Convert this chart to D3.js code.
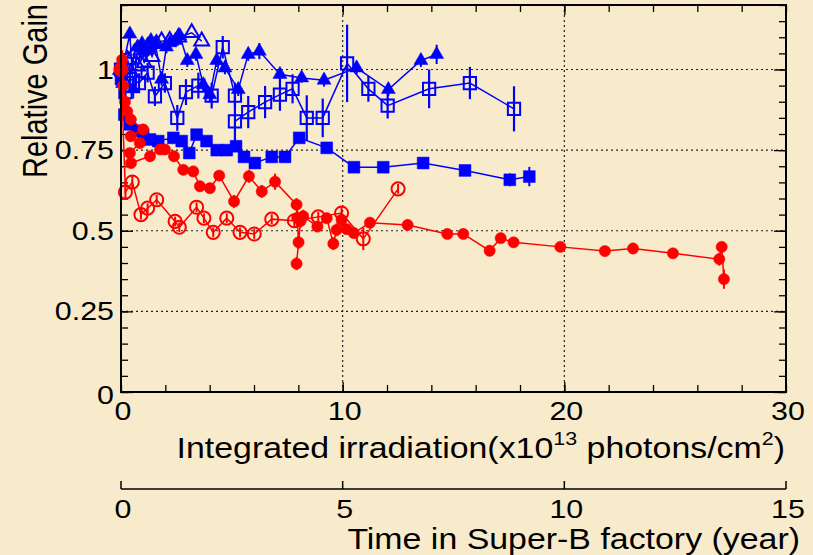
<!DOCTYPE html>
<html>
<head>
<meta charset="utf-8">
<script src="https://cdn.jsdelivr.net/npm/d3@7/dist/d3.min.js"></script>
<style>
  html, body { margin: 0; padding: 0; background: #f8ebcc; }
  svg { display: block; }
</style>
</head>
<body>
<svg id="chart" width="813" height="555"></svg>
<script>
// ---- Relative gain vs. integrated irradiation ----

// blue filled triangles
const triX = [0.05, 0.4, 0.55, 0.75, 0.95, 1.15, 1.35, 1.55, 1.83, 2.05, 2.21, 2.45, 2.66, 2.99, 3.38, 3.71, 4.01, 4.32, 4.69, 5.29, 5.74, 6.24, 7.17, 8.15, 9.16, 10.63, 12.06, 13.53, 14.24];
const triY = [1.0, 1.11, 0.94, 1.07, 1.08, 1.06, 1.09, 1.08, 0.97, 1.07, 1.083, 1.09, 1.104, 1.028, 1.047, 0.953, 0.922, 1.028, 1.005, 0.938, 1.047, 1.057, 0.985, 0.974, 0.967, 1.005, 0.938, 1.028, 1.047];
const triErr = [0.02, 0.02, 0.03, 0.02, 0.02, 0.02, 0.02, 0.02, 0.02, 0.02, 0.02, 0.02, 0.02, 0.02, 0.02, 0.02, 0.02, 0.02, 0.02, 0.02, 0.02, 0.025, 0.015, 0.015, 0.02, 0.02, 0.02, 0.02, 0.03];

// blue open triangles
const otriX = [0.0, 0.15, 0.3, 0.45, 0.6, 0.75, 0.9, 1.05, 1.2, 1.4, 1.6, 1.83, 2.2, 2.6, 3.19, 3.64];
const otriY = [1.0, 0.96, 1.03, 0.99, 1.05, 1.01, 1.06, 1.02, 1.07, 1.04, 1.08, 1.088, 1.09, 1.1, 1.114, 1.088];

// blue open squares
const osqX = [0.0, 0.2, 0.4, 0.81, 1.2, 1.53, 1.98, 2.54, 2.93, 3.49, 4.09, 4.59, 5.14, 5.14, 5.74, 6.5, 7.17, 7.74, 8.38, 9.1, 10.2, 11.16, 12.03, 13.9, 15.74, 17.73];
const osqY = [1.0, 0.93, 0.97, 0.958, 0.99, 0.917, 0.958, 0.85, 0.93, 0.95, 0.919, 1.069, 0.919, 0.839, 0.868, 0.899, 0.922, 0.94, 0.85, 0.85, 1.019, 0.94, 0.888, 0.94, 0.958, 0.878];
const osqErr = [0.02, 0.03, 0.03, 0.03, 0.03, 0.03, 0.03, 0.04, 0.04, 0.04, 0.04, 0.035, 0.04, 0.08, 0.05, 0.05, 0.05, 0.045, 0.07, 0.06, 0.12, 0.04, 0.04, 0.06, 0.05, 0.07];

// blue filled squares
const fsqX = [0.0, 0.15, 0.4, 0.7, 1.0, 1.31, 1.68, 2.36, 2.74, 3.08, 3.41, 3.86, 4.32, 4.77, 5.19, 5.55, 6.04, 6.8, 7.4, 8.04, 9.28, 10.51, 11.83, 13.63, 15.52, 17.54, 18.42];
const fsqY = [0.97, 0.86, 0.83, 0.81, 0.798, 0.783, 0.778, 0.788, 0.778, 0.741, 0.798, 0.778, 0.75, 0.75, 0.762, 0.729, 0.71, 0.729, 0.729, 0.788, 0.757, 0.697, 0.697, 0.71, 0.687, 0.658, 0.668];
const fsqErr = [0.015, 0.015, 0.015, 0.015, 0.015, 0.015, 0.015, 0.015, 0.015, 0.015, 0.015, 0.015, 0.015, 0.015, 0.015, 0.015, 0.015, 0.015, 0.015, 0.015, 0.015, 0.015, 0.015, 0.015, 0.015, 0.02, 0.03];

// red filled circles
const rfX = [0.0, 0.05, 0.1, 0.18, 0.28, 0.44, 1.0, 0.44, 0.85, 0.4, 0.45, 1.31, 1.76, 1.98, 2.39, 2.81, 3.26, 3.56, 4.01, 4.43, 5.1, 5.77, 6.35, 6.95, 7.92, 7.95, 8.01, 7.92, 8.1, 8.22, 8.86, 9.28, 9.58, 9.73, 9.95, 10.18, 10.5, 11.23, 12.93, 14.72, 15.44, 16.63, 17.13, 17.71, 19.82, 21.83, 23.1, 24.9, 26.99, 27.1, 27.2];
const rfY = [1.0, 1.03, 0.95, 0.9, 0.87, 0.845, 0.814, 0.793, 0.772, 0.741, 0.71, 0.731, 0.752, 0.752, 0.731, 0.689, 0.684, 0.638, 0.632, 0.671, 0.591, 0.669, 0.622, 0.652, 0.581, 0.54, 0.464, 0.398, 0.53, 0.545, 0.513, 0.539, 0.46, 0.503, 0.534, 0.505, 0.493, 0.525, 0.518, 0.49, 0.49, 0.438, 0.477, 0.464, 0.45, 0.437, 0.445, 0.43, 0.412, 0.45, 0.35];
const rfErr = [0.03, 0.03, 0.03, 0.02, 0.02, 0.015, 0.015, 0.015, 0.015, 0.015, 0.015, 0.015, 0.015, 0.015, 0.015, 0.015, 0.015, 0.015, 0.015, 0.015, 0.02, 0.02, 0.02, 0.025, 0.02, 0.03, 0.02, 0.02, 0.02, 0.02, 0.015, 0.015, 0.02, 0.02, 0.02, 0.015, 0.015, 0.015, 0.015, 0.01, 0.01, 0.01, 0.015, 0.01, 0.01, 0.01, 0.01, 0.01, 0.02, 0.01, 0.03];

// red open circles
const roX = [0.0, 0.2, 0.51, 0.9, 1.2, 1.61, 2.44, 2.63, 3.41, 3.74, 4.16, 4.77, 5.37, 6.01, 6.8, 7.82, 8.9, 9.95, 10.93, 12.5];
const roY = [1.0, 0.62, 0.651, 0.55, 0.57, 0.596, 0.529, 0.511, 0.573, 0.539, 0.495, 0.539, 0.495, 0.49, 0.536, 0.531, 0.543, 0.555, 0.475, 0.63];
const roErr = [0.02, 0.02, 0.02, 0.015, 0.015, 0.015, 0.015, 0.015, 0.015, 0.015, 0.015, 0.015, 0.015, 0.015, 0.015, 0.02, 0.015, 0.02, 0.035, 0.015];

// axis ticks and labels
const gainTicks = [0, 0.25, 0.5, 0.75, 1];
const gainLabels = ["0", "0.25", "0.5", "0.75", "1"];
const doseTicks = [0, 10, 20, 30];
const yearTicks = [0, 5, 10, 15];

const BLUE = "#0000ff", RED = "#ff0000";
const FONT = "'Liberation Sans', Arial, Helvetica, sans-serif";

const svg = d3.select("#chart");
const W = 813, H = 555;
const L = 121, R = 786, T = 5, B = 392;

const x = d3.scaleLinear().domain([0, 30]).range([L, R]);
const y = d3.scaleLinear().domain([0, 1.2]).range([B, T]);
const yr = d3.scaleLinear().domain([0, 15]).range([L, R]);

// parchment background
const defs = svg.append("defs");
const f = defs.append("filter").attr("id", "paper")
  .attr("x", 0).attr("y", 0).attr("width", "100%").attr("height", "100%");
f.append("feTurbulence").attr("type", "fractalNoise")
  .attr("baseFrequency", "0.015").attr("numOctaves", 3).attr("seed", 7);
f.append("feColorMatrix").attr("type", "matrix")
  .attr("values", "0 0 0 0 0.93  0 0 0 0 0.82  0 0 0 0 0.6  0 0 0 0.5 -0.18");
svg.append("rect").attr("width", W).attr("height", H).attr("fill", "#f8ebcc");
svg.append("rect").attr("width", W).attr("height", H).attr("filter", "url(#paper)");

// dotted grid
const grid = svg.append("g").attr("stroke", "#222").attr("stroke-width", 1.2)
  .attr("stroke-dasharray", "2,3");
grid.selectAll("line.h").data([0.25, 0.5, 0.75, 1]).join("line")
  .attr("x1", L).attr("x2", R).attr("y1", d => y(d)).attr("y2", d => y(d));
grid.selectAll("line.v").data([10, 20]).join("line")
  .attr("y1", T).attr("y2", B).attr("x1", d => x(d)).attr("x2", d => x(d));

// inward ticks on all four sides
function ticks(axisFn, scale, values, size, transform) {
  svg.append("g").attr("transform", transform)
    .call(axisFn(scale).tickValues(values).tickSize(size).tickFormat(""))
    .call(g => g.select(".domain").remove())
    .call(g => g.selectAll("line").attr("stroke", "#000").attr("stroke-width", 1.3));
}
const yMinor = d3.range(0, 1.2001, 0.05);
const xMinor = d3.range(0, 30.001, 2);
ticks(d3.axisRight, y, yMinor, 7, `translate(${L},0)`);
ticks(d3.axisRight, y, gainTicks, 12, `translate(${L},0)`);
ticks(d3.axisLeft, y, yMinor, 7, `translate(${R},0)`);
ticks(d3.axisLeft, y, gainTicks, 12, `translate(${R},0)`);
ticks(d3.axisTop, x, xMinor, 7, `translate(0,${B})`);
ticks(d3.axisTop, x, [10, 20], 10, `translate(0,${B})`);
ticks(d3.axisBottom, x, xMinor, 7, `translate(0,${T})`);
ticks(d3.axisBottom, x, [10, 20], 10, `translate(0,${T})`);

// series drawing
function series(X, Y, E, opt) {
  const data = X.map((v, i) => ({ x: v, y: Y[i], e: E ? E[i] : 0 }));
  const g = svg.append("g");
  g.append("path").datum(data)
    .attr("d", d3.line().x(d => x(d.x)).y(d => y(d.y)))
    .attr("fill", "none").attr("stroke", opt.color).attr("stroke-width", 1.5);
  g.selectAll("line.err").data(data.filter(d => d.e > 0)).join("line")
    .attr("x1", d => x(d.x)).attr("x2", d => x(d.x))
    .attr("y1", d => y(d.y - d.e)).attr("y2", d => y(d.y + d.e))
    .attr("stroke", opt.color).attr("stroke-width", opt.errWidth || 2);
  const sym = d3.symbol().type(opt.type).size(opt.size);
  g.selectAll("path.m").data(data).join("path")
    .attr("transform", d => `translate(${x(d.x)},${y(d.y)})`)
    .attr("d", sym)
    .attr("fill", opt.open ? "none" : opt.color)
    .attr("stroke", opt.color)
    .attr("stroke-width", opt.open ? 2 : 0.5);
}

series(osqX, osqY, osqErr, { color: BLUE, type: d3.symbolSquare, size: 150, open: true, errWidth: 2.2 });
series(fsqX, fsqY, fsqErr, { color: BLUE, type: d3.symbolSquare, size: 140, open: false });
series(otriX, otriY, null, { color: BLUE, type: d3.symbolTriangle, size: 95, open: true });
series(triX, triY, triErr, { color: BLUE, type: d3.symbolTriangle, size: 85, open: false });
series(roX, roY, roErr, { color: RED, type: d3.symbolCircle, size: 135, open: true });
series(rfX, rfY, rfErr, { color: RED, type: d3.symbolCircle, size: 100, open: false });

// frame
svg.append("rect").attr("x", L).attr("y", T).attr("width", R - L).attr("height", B - T)
  .attr("fill", "none").attr("stroke", "#000").attr("stroke-width", 2);

// horizontally widened text
function label(px, py, txt, size, anchor, sx, rot) {
  const g = svg.append("g")
    .attr("transform", `translate(${px},${py}) scale(${sx},1)` + (rot ? ` rotate(${rot})` : ""));
  return g.append("text").attr("text-anchor", anchor)
    .attr("font-family", FONT).attr("font-size", size).attr("fill", "#000").text(txt);
}

// gain tick labels
gainTicks.forEach((v, i) => {
  label(114, y(v) + 9 + (v === 0 ? 3 : 0), gainLabels[i], 26, "end", 1.17);
});
// irradiation tick labels
doseTicks.forEach(v => label(x(v) + 2, 420, String(v), 26, "middle", 1.17));

// irradiation title with superscripts
const xt = label(785, 458, "", 30, "end", 1.13);
xt.append("tspan").text("Integrated irradiation(x10");
xt.append("tspan").attr("font-size", 19).attr("dy", -13).text("13");
xt.append("tspan").attr("dy", 13).text(" photons/cm");
xt.append("tspan").attr("font-size", 19).attr("dy", -13).text("2");
xt.append("tspan").attr("dy", 13).text(")");

// gain title
label(47, 4, "Relative Gain", 29, "end", 1.2, -90);

// time axis
const ty = 489;
svg.append("line").attr("x1", L).attr("x2", R).attr("y1", ty).attr("y2", ty)
  .attr("stroke", "#000").attr("stroke-width", 1.5);
svg.append("g").selectAll("line").data(yearTicks).join("line")
  .attr("x1", d => yr(d)).attr("x2", d => yr(d)).attr("y1", ty).attr("y2", ty - 8)
  .attr("stroke", "#000").attr("stroke-width", 1.5);
yearTicks.forEach(v => label(yr(v) + 2, 518, String(v), 26, "middle", 1.17));
label(800, 549, "Time in Super-B factory (year)", 30, "end", 1.13);
</script>
</body>
</html>
